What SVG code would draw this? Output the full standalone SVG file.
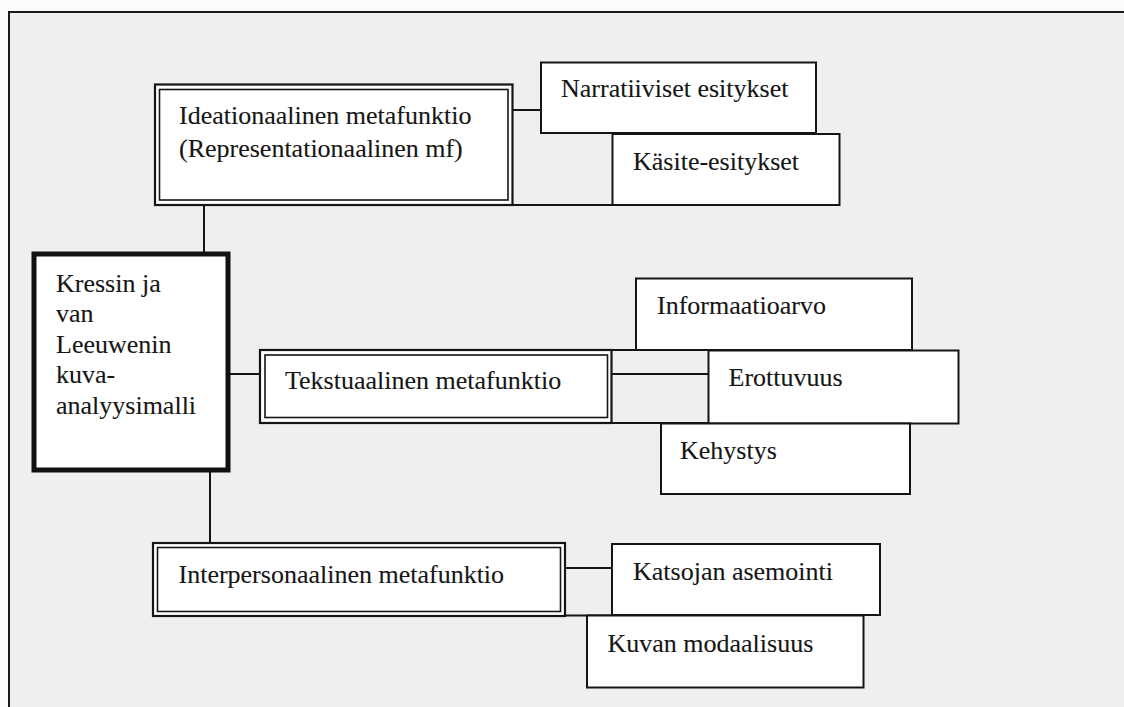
<svg xmlns="http://www.w3.org/2000/svg" width="1124" height="707" viewBox="0 0 1124 707">
  <style>
    .t { font-size: 26px; fill: #161616; stroke: #161616; stroke-width: 0.12; }
    .box { fill: #ffffff; stroke: #151515; stroke-width: 2; }
    .dbl-out { fill: #ffffff; stroke: #151515; stroke-width: 2.2; }
    .dbl-in { fill: none; stroke: #151515; stroke-width: 1.6; }
    .main { fill: #ffffff; stroke: #111111; stroke-width: 5; }
    .ln { fill: none; stroke: #151515; stroke-width: 2; }
  </style>

  <!-- page and frame -->
  <rect x="0" y="0" width="1124" height="707" fill="#fbfbfb"/>
  <rect x="9" y="12" width="1130" height="710" fill="#efefef" stroke="#1a1a1a" stroke-width="2"/>

  <!-- connectors -->
  <g id="connectors">
    <line class="ln" x1="204" y1="205" x2="204" y2="252"/>
    <line class="ln" x1="210" y1="472" x2="210" y2="543"/>
    <line class="ln" x1="230" y1="374" x2="260" y2="374"/>
    <line class="ln" x1="512" y1="110" x2="541" y2="110"/>
    <line class="ln" x1="512" y1="205" x2="613" y2="205"/>
    <line class="ln" x1="611" y1="374" x2="709" y2="374"/>
    <line class="ln" x1="611" y1="350" x2="709" y2="350"/>
    <line class="ln" x1="611" y1="423" x2="709" y2="423"/>
    <line class="ln" x1="565" y1="568" x2="612" y2="568"/>
    <line class="ln" x1="565" y1="615.5" x2="612" y2="615.5"/>
  </g>

  <g font-family="Liberation Serif, Times New Roman, DejaVu Serif, serif">
  <!-- root -->
  <g id="node-kress">
    <rect class="main" x="34" y="254" width="194" height="216"/>
    <text class="t" x="56" y="292">Kressin ja</text>
    <text class="t" x="56" y="322">van</text>
    <text class="t" x="56" y="352.5">Leeuwenin</text>
    <text class="t" x="56" y="383">kuva-</text>
    <text class="t" x="56" y="413.5">analyysimalli</text>
  </g>

  <!-- ideational metafunction -->
  <g id="node-ideational">
    <rect class="dbl-out" x="155" y="84.5" width="357.5" height="120.5"/>
    <rect class="dbl-in" x="159.5" y="89.5" width="348.5" height="110.5"/>
    <text class="t" x="179" y="124">Ideationaalinen metafunktio</text>
    <text class="t" x="179" y="156.5">(Representationaalinen mf)</text>
  </g>
  <g id="node-narratiiviset">
    <rect class="box" x="541" y="62.5" width="275" height="70.5"/>
    <text class="t" x="561" y="97">Narratiiviset esitykset</text>
  </g>
  <g id="node-kasite">
    <rect class="box" x="612.5" y="134" width="227" height="71"/>
    <text class="t" x="633" y="169.5">Käsite-esitykset</text>
  </g>

  <!-- textual metafunction -->
  <g id="node-textual">
    <rect class="dbl-out" x="260" y="350" width="351.5" height="73"/>
    <rect class="dbl-in" x="265" y="355" width="342.5" height="62.5"/>
    <text class="t" x="285" y="388.5">Tekstuaalinen metafunktio</text>
  </g>
  <g id="node-informaatioarvo">
    <rect class="box" x="636" y="278.5" width="276" height="71.5"/>
    <text class="t" x="657" y="313.5">Informaatioarvo</text>
  </g>
  <g id="node-erottuvuus">
    <rect class="box" x="708.5" y="350.5" width="250" height="73"/>
    <text class="t" x="728.5" y="386">Erottuvuus</text>
  </g>
  <g id="node-kehystys">
    <rect class="box" x="661" y="423.5" width="249" height="70.5"/>
    <text class="t" x="680" y="458.5">Kehystys</text>
  </g>

  <!-- interpersonal metafunction -->
  <g id="node-interpersonal">
    <rect class="dbl-out" x="153" y="543" width="412" height="73"/>
    <rect class="dbl-in" x="157.5" y="547.5" width="403" height="64"/>
    <text class="t" x="178.5" y="583">Interpersonaalinen metafunktio</text>
  </g>
  <g id="node-katsojan">
    <rect class="box" x="612" y="544" width="268" height="71"/>
    <text class="t" x="633" y="579.5">Katsojan asemointi</text>
  </g>
  <g id="node-kuvan">
    <rect class="box" x="587" y="615.5" width="276.5" height="72"/>
    <text class="t" x="607.5" y="652">Kuvan modaalisuus</text>
  </g>
  </g>
</svg>
